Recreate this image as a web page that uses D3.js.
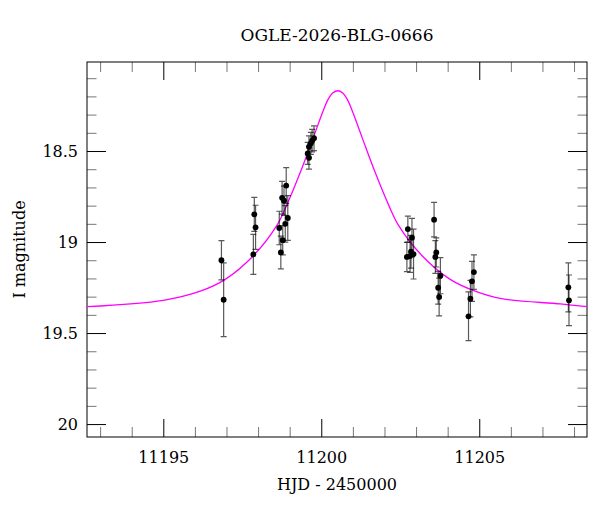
<!DOCTYPE html>
<html>
<head>
<meta charset="utf-8">
<script src="https://cdn.jsdelivr.net/npm/d3@7"></script>
<style>
  body { margin: 0; background: #fff; }
  text { font-family: "DejaVu Serif", serif; fill: #000; }
</style>
</head>
<body>
<div id="chart"></div>
<script>
// photometry
var hjd = [11196.84, 11196.91, 11197.85, 11197.88, 11197.92, 11198.67, 11198.72, 11198.76,
  11198.78, 11198.82, 11198.86, 11198.89, 11198.94, 11199.57, 11199.61, 11199.61,
  11199.67, 11199.71, 11199.77, 11202.71, 11202.74, 11202.81, 11202.84, 11202.87,
  11202.92, 11203.57, 11203.61, 11203.64, 11203.70, 11203.73, 11203.77, 11204.66,
  11204.72, 11204.77, 11204.83, 11207.82, 11207.84];
var mag = [19.100, 19.317, 19.068, 18.848, 18.919, 18.923, 19.057, 18.757,
  18.990, 18.773, 18.900, 18.690, 18.868, 18.513, 18.537, 18.477,
  18.458, 18.443, 18.430, 19.082, 18.929, 19.077, 19.053, 18.976,
  19.066, 18.877, 19.082, 19.057, 19.251, 19.302, 19.185, 19.408,
  19.311, 19.216, 19.165, 19.249, 19.320];
var magErr = [0.108, 0.203, 0.110, 0.093, 0.121, 0.092, 0.090, 0.090,
  0.080, 0.080, 0.100, 0.099, 0.123, 0.060, 0.062, 0.060,
  0.060, 0.062, 0.068, 0.080, 0.071, 0.090, 0.090, 0.106,
  0.137, 0.095, 0.090, 0.080, 0.090, 0.104, 0.099, 0.134,
  0.100, 0.110, 0.095, 0.135, 0.139];

// model curve
var modelHjd = [11192.59, 11195.0, 11196.17, 11196.96, 11197.85, 11198.59, 11198.90, 11199.33,
  11199.75, 11200.07, 11200.22, 11200.37, 11200.52, 11200.67, 11200.82, 11200.97,
  11201.29, 11201.71, 11202.14, 11202.45, 11203.19, 11204.08, 11204.87, 11205.66,
  11207.57, 11208.41];
var modelMag = [19.355, 19.32, 19.27, 19.205, 19.075, 18.91, 18.80, 18.62,
  18.425, 18.275, 18.215, 18.18, 18.169, 18.18, 18.215, 18.275,
  18.425, 18.62, 18.80, 18.91, 19.075, 19.205, 19.27, 19.31,
  19.34, 19.355];

var xMajor = [11195, 11200, 11205];
var yMajor = [18.5, 19, 19.5, 20];
var title = "OGLE-2026-BLG-0666";

var margin = { top: 62, right: 13, bottom: 75, left: 87 },
    width = 600 - margin.left - margin.right,
    height = 512 - margin.top - margin.bottom;

var svg = d3.select("#chart")
    .append("svg")
    .attr("width", 600)
    .attr("height", 512);

var g = svg.append("g")
    .attr("transform", "translate(" + margin.left + "," + margin.top + ")");

var x = d3.scaleLinear()
    .domain([11192.585, 11208.41])
    .range([0, width]);

var y = d3.scaleLinear()
    .domain([18.011, 20.071])
    .range([0, height]);

var xMinor = d3.range(11193, 11209).filter(function (d) { return d % 5 !== 0; });
var yMinor = d3.range(181, 201).map(function (d) { return d / 10; })
    .filter(function (d) { return yMajor.indexOf(d) < 0; });

function addAxis(axis, tx, ty, minor) {
    var a = g.append("g")
        .attr("transform", "translate(" + tx + "," + ty + ")")
        .call(axis);
    a.select(".domain").remove();
    a.selectAll(".tick line").attr("stroke", minor ? "#777" : "#000");
    a.selectAll(".tick text").style("font-size", "16px").style("font-family", "DejaVu Serif, serif");
    return a;
}

// major ticks, inward
addAxis(d3.axisBottom(x).tickValues(xMajor).tickSize(-18).tickPadding(15)
    .tickFormat(d3.format("d")), 0, height, false);
addAxis(d3.axisTop(x).tickValues(xMajor).tickSize(-18).tickFormat(""), 0, 0, false);
addAxis(d3.axisLeft(y).tickValues(yMajor).tickSize(-19).tickPadding(9)
    .tickFormat(function (d) { return d; }), 0, 0, false);
addAxis(d3.axisRight(y).tickValues(yMajor).tickSize(-19).tickFormat(""), width, 0, false);

// minor ticks
addAxis(d3.axisBottom(x).tickValues(xMinor).tickSize(-10).tickFormat(""), 0, height, true);
addAxis(d3.axisTop(x).tickValues(xMinor).tickSize(-10).tickFormat(""), 0, 0, true);
addAxis(d3.axisLeft(y).tickValues(yMinor).tickSize(-9.5).tickFormat(""), 0, 0, true);
addAxis(d3.axisRight(y).tickValues(yMinor).tickSize(-9.5).tickFormat(""), width, 0, true);

g.append("rect")
    .attr("width", width)
    .attr("height", height)
    .attr("fill", "none")
    .attr("stroke", "#000")
    .attr("stroke-width", 1);

var plot = g.append("g");
g.append("clipPath").attr("id", "clip")
    .append("rect").attr("width", width).attr("height", height);
plot.attr("clip-path", "url(#clip)");

var model = modelHjd.map(function (d, i) { return [d, modelMag[i]]; });
var line = d3.line()
    .x(function (d) { return x(d[0]); })
    .y(function (d) { return y(d[1]); })
    .curve(d3.curveCatmullRom.alpha(0.5));

plot.append("path")
    .datum(model)
    .attr("fill", "none")
    .attr("stroke", "#ff00ff")
    .attr("stroke-width", 1.3)
    .attr("d", line);

var pts = hjd.map(function (d, i) { return { t: d, m: mag[i], e: magErr[i] }; });

var bars = plot.append("g")
    .attr("stroke", "#000")
    .attr("stroke-opacity", 0.65)
    .attr("stroke-width", 1.2);

bars.selectAll(".bar")
    .data(pts)
    .enter().append("path")
    .attr("fill", "none")
    .attr("d", function (d) {
        var cx = x(d.t), y1 = y(d.m - d.e), y2 = y(d.m + d.e);
        return "M" + (cx - 3) + "," + y1 + "H" + (cx + 3) +
            "M" + cx + "," + y1 + "V" + y2 +
            "M" + (cx - 3) + "," + y2 + "H" + (cx + 3);
    });

plot.selectAll(".dot")
    .data(pts)
    .enter().append("circle")
    .attr("cx", function (d) { return x(d.t); })
    .attr("cy", function (d) { return y(d.m); })
    .attr("r", 2.9)
    .attr("fill", "#000");

svg.append("text")
    .attr("x", margin.left + width / 2)
    .attr("y", 41)
    .attr("text-anchor", "middle")
    .style("font-size", "17px")
    .text(title);

svg.append("text")
    .attr("x", margin.left + width / 2)
    .attr("y", 490)
    .attr("text-anchor", "middle")
    .style("font-size", "16px")
    .text("HJD - 2450000");

svg.append("text")
    .attr("transform", "translate(25," + (margin.top + height / 2) + ") rotate(-90)")
    .attr("text-anchor", "middle")
    .style("font-size", "16px")
    .text("I magnitude");
</script>
</body>
</html>
